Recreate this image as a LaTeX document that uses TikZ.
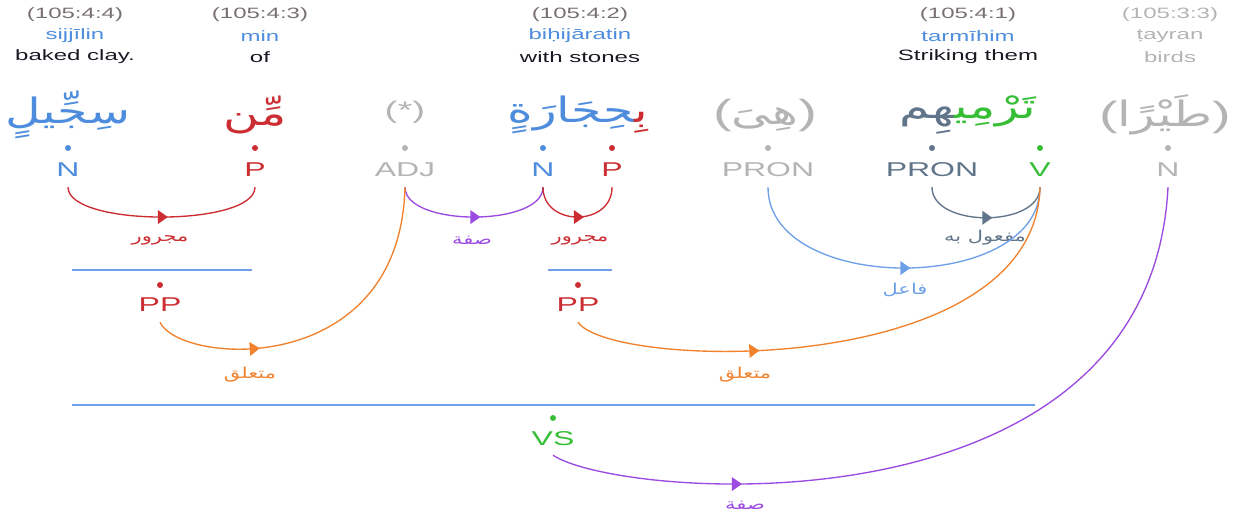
\documentclass[tikz,border=0pt]{standalone}
\usepackage{fontspec}
\setmainfont{Liberation Sans}[FakeStretch=1.6]
\newfontfamily\arabicfont[Script=Arabic,FakeStretch=1.4]{DejaVu Sans}
\TeXXeTstate=1
\usetikzlibrary{shapes.geometric}

\definecolor{nounblue}{RGB}{78,141,221}
\definecolor{prepred}{RGB}{204,45,50}
\definecolor{ghost}{RGB}{180,180,180}
\definecolor{slate}{RGB}{96,116,138}
\definecolor{verbgreen}{RGB}{55,190,55}
\definecolor{adjpurple}{RGB}{155,75,225}
\definecolor{linkorange}{RGB}{240,130,45}
\definecolor{linkblue}{RGB}{110,160,232}
\definecolor{refgray}{RGB}{120,112,112}
\definecolor{glossblack}{RGB}{25,25,35}

\newcommand{\zwj}{\char"200D\relax}
% parentheses set in the Latin face so they are not mirrored
\newcommand{\lparen}{{\rmfamily(}}
\newcommand{\rparen}{{\rmfamily)}}

\begin{document}
\begin{tikzpicture}[x=1pt,y=-1pt,
  refline/.style={font=\fontsize{15}{18}\selectfont, text=refgray, inner sep=1pt},
  translit/.style={font=\fontsize{15}{18}\selectfont, text=nounblue, inner sep=1pt},
  gloss/.style={font=\fontsize{15}{18}\selectfont, text=glossblack, inner sep=1pt},
  word/.style={font=\arabicfont\fontsize{35}{42}\selectfont, inner sep=1pt},
  ghostword/.style={font=\fontsize{24}{30}\selectfont, text=ghost, inner sep=1pt},
  tag/.style={font=\fontsize{20}{24}\selectfont, anchor=base, inner xsep=1pt, inner ysep=10pt, text depth=0pt},
  dot/.style={circle, inner sep=0pt, minimum size=6pt},
  rel/.style={font=\arabicfont\fontsize{15}{18}\selectfont, inner sep=1pt},
  arc/.style={line width=1.35pt},
  rule/.style={line width=1.5pt, linkblue},
  tip/.style={isosceles triangle, isosceles triangle apex angle=70, fill, inner sep=0pt, minimum width=9pt, minimum height=10pt, sloped}
]
\useasboundingbox (0,0) rectangle (1240,521);

% ---- word headers: location, transliteration, gloss
\node[refline] (r1) at (75,15) {(105:4:4)};
\node[translit] (l1) at (75,36) {sijjīlin};
\node[gloss] (g1) at (75,57) {baked clay.};
\node[refline] (r2) at (260,15) {(105:4:3)};
\node[translit] (l2) at (260,36) {min};
\node[gloss] (g2) at (260,57) {of};
\node[refline] (r3) at (580,15) {(105:4:2)};
\node[translit] (l3) at (580,36) {biḥijāratin};
\node[gloss] (g3) at (580,57) {with stones};
\node[refline] (r4) at (968,15) {(105:4:1)};
\node[translit] (l4) at (968,36) {tarmīhim};
\node[gloss] (g4) at (968,57) {Striking them};
\node[refline, text=ghost] (r5) at (1170,15) {(105:3:3)};
\node[translit, text=ghost] (l5) at (1170,36) {ṭayran};
\node[gloss, text=ghost] (g5) at (1170,57) {birds};

% ---- Arabic words (multi-coloured words are set piece by piece, left to right)
\node[word, text=nounblue] (w1) at (68,115) {\beginR سِجِّيلٍ\endR};
\node[word, text=prepred] (w2) at (255,115) {\beginR مِّن\endR};
\node[ghostword] (w3) at (405,112) {(*)};
\node[word] (w4) at (578,115) {{\color{nounblue}\beginR\zwj حِجَارَةٍ\endR}{\color{prepred}\beginR بِ\zwj\endR}};
\node[word, text=ghost] (w5) at (765,115) {\lparen\beginR هِىَ\endR\rparen};
\node[word] (w6) at (968,115) {{\color{slate}\beginR\zwj هِم\endR}{\color{verbgreen}\beginR تَرْمِي\zwj\endR}};
\node[word, text=ghost] (w7) at (1165,115) {\lparen\beginR طَيْرًا\endR\rparen};

% ---- segment dots
\node[dot, fill=nounblue] (dN1) at (68,148) {};
\node[dot, fill=prepred] (dP1) at (255,148) {};
\node[dot, fill=ghost] (dA) at (405,148) {};
\node[dot, fill=nounblue] (dN2) at (543,148) {};
\node[dot, fill=prepred] (dP2) at (612,148) {};
\node[dot, fill=ghost] (dR1) at (768,148) {};
\node[dot, fill=slate] (dR2) at (932,148) {};
\node[dot, fill=verbgreen] (dV) at (1040,148) {};
\node[dot, fill=ghost] (dN3) at (1168,148) {};

% ---- part-of-speech tags
\node[tag, text=nounblue] (tN1) at (68,177) {N};
\node[tag, text=prepred] (tP1) at (255,177) {P};
\node[tag, text=ghost] (tA) at (405,177) {ADJ};
\node[tag, text=nounblue] (tN2) at (543,177) {N};
\node[tag, text=prepred] (tP2) at (612,177) {P};
\node[tag, text=ghost] (tR1) at (768,177) {PRON};
\node[tag, text=slate] (tR2) at (932,177) {PRON};
\node[tag, text=verbgreen] (tV) at (1040,177) {V};
\node[tag, text=ghost] (tN3) at (1168,177) {N};

% ---- phrase nodes
\draw[rule] (72,270) coordinate (pp1a) -- (252,270) coordinate (pp1b);
\node[dot, fill=prepred] (dPP1) at (160,285) {};
\node[tag, text=prepred] (tPP1) at (160,312) {PP};
\draw[rule] (548,270) coordinate (pp2a) -- (612,270) coordinate (pp2b);
\node[dot, fill=prepred] (dPP2) at (578,285) {};
\node[tag, text=prepred] (tPP2) at (578,312) {PP};
\draw[rule] (72,405) coordinate (vsa) -- (1035,405) coordinate (vsb);
\node[dot, fill=verbgreen] (dVS) at (553,418) {};
\node[tag, text=verbgreen] (tVS) at (553,445) {VS};

% ---- dependency arcs
\draw[arc, prepred] (tN1.south) .. controls (68,227) and (255,227) .. node[pos=0.5, tip] {} (tP1.south);
\node[rel, text=prepred] (lb1) at (160,240) {\beginR مجرور\endR};

\draw[arc, adjpurple] (tA.south) .. controls (405,227) and (543,227) .. node[pos=0.5, tip] {} (tN2.south);
\node[rel, text=adjpurple] (lb2) at (472,240) {\beginR صفة\endR};

\draw[arc, prepred] (tN2.south) .. controls (543,227) and (612,227) .. node[pos=0.5, tip] {} (tP2.south);
\node[rel, text=prepred] (lb3) at (580,240) {\beginR مجرور\endR};

\draw[arc, slate] (tR2.south) .. controls (932,228) and (1040,228) .. node[pos=0.5, tip] {} (tV.south);
\node[rel, text=slate] (lb4) at (985,238) {\beginR مفعول به\endR};

\draw[arc, linkblue] (tR1.south) .. controls (768,295) and (1040,295) .. node[pos=0.5, tip] {} (tV.south);
\node[rel, text=linkblue] (lb5) at (905,290) {\beginR فاعل\endR};

\draw[arc, linkorange] (tPP1.south) .. controls (180,365) and (400,380) .. node[pos=0.4, tip] {} (tA.south);
\node[rel, text=linkorange] (lb6) at (250,375) {\beginR متعلق\endR};

\draw[arc, linkorange] (tPP2.south) .. controls (610,370) and (1035,380) .. node[pos=0.4, tip] {} (tV.south);
\node[rel, text=linkorange] (lb7) at (745,375) {\beginR متعلق\endR};

\draw[arc, adjpurple] (tVS.south) .. controls (620,500) and (1150,540) .. node[pos=0.33, tip] {} (tN3.south);
\node[rel, text=adjpurple] (lb8) at (745,505) {\beginR صفة\endR};
\end{tikzpicture}
\end{document}
